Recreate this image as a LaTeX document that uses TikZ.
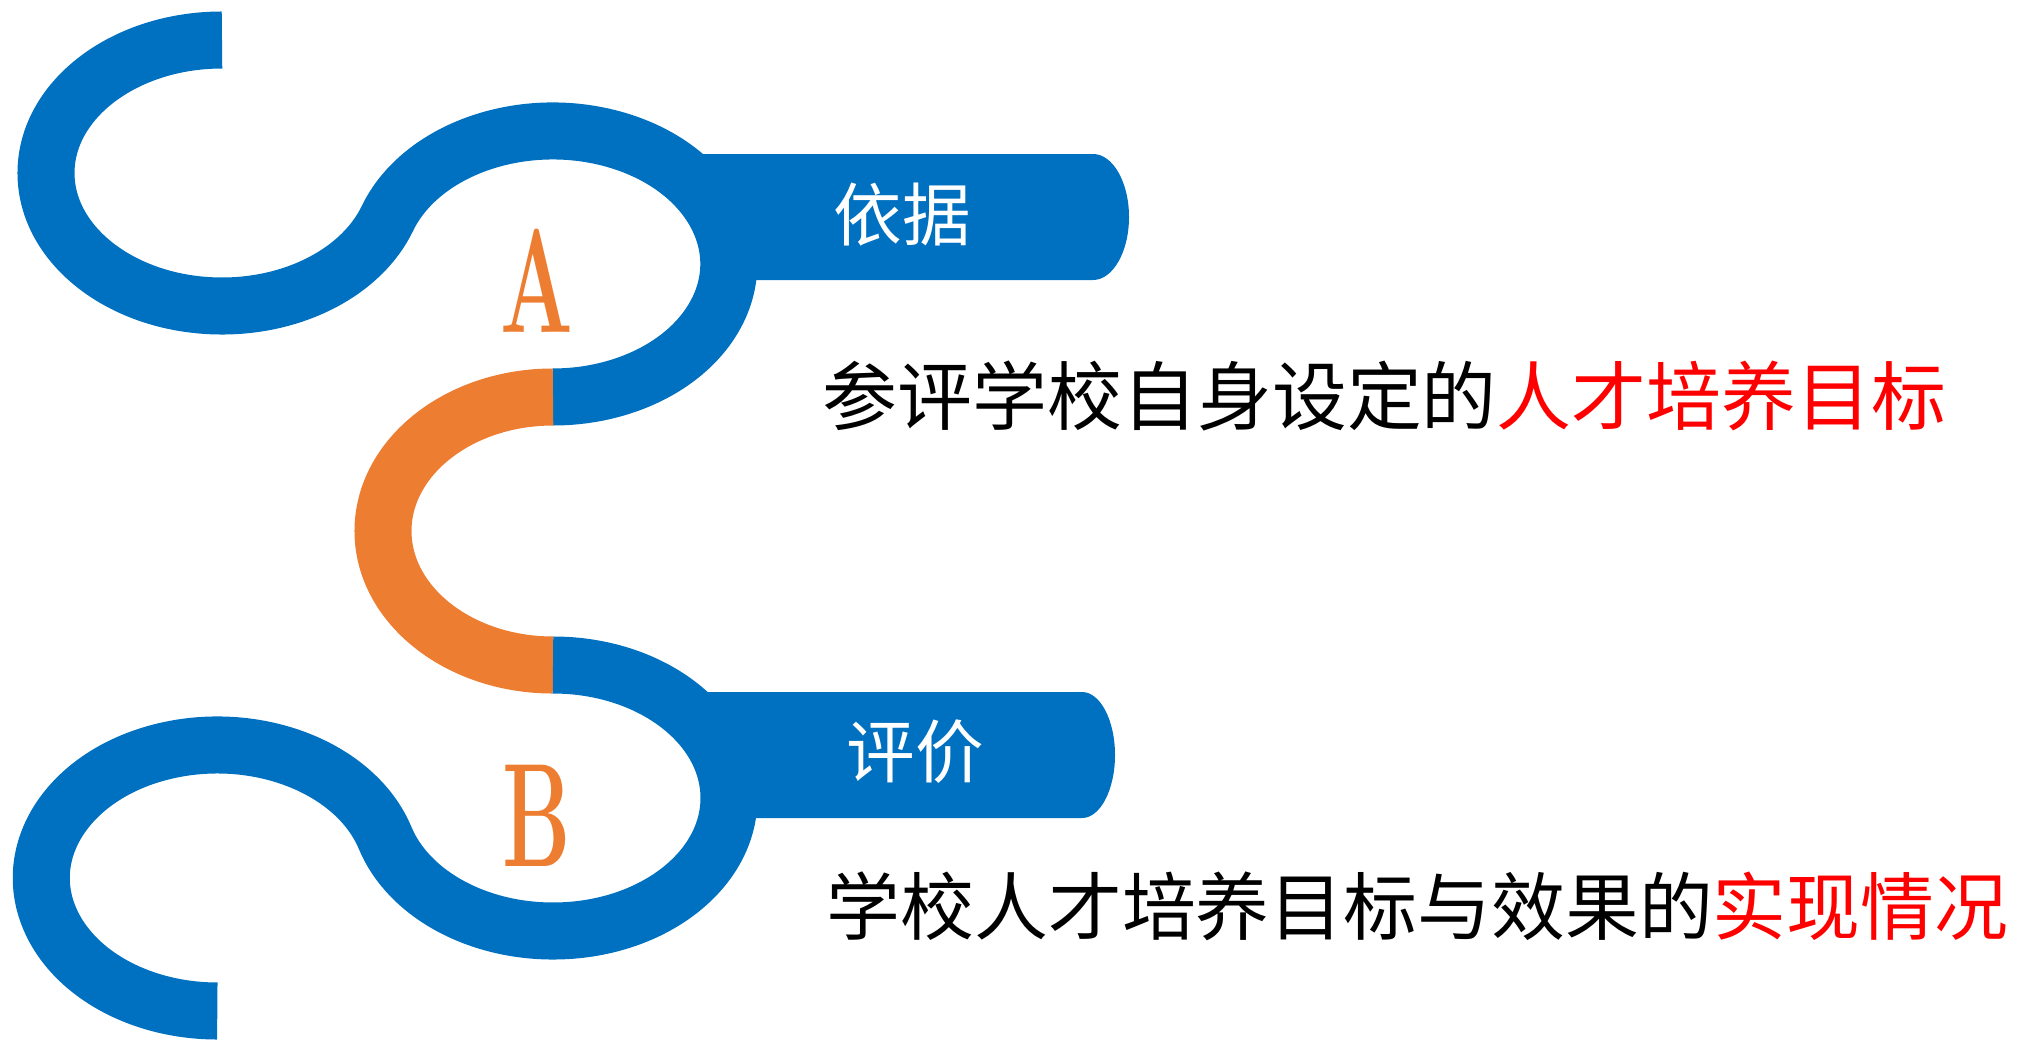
\documentclass[tikz,border=0pt]{standalone}
\usepackage{fontspec}
\newfontfamily\cjk{Noto Sans CJK SC}
\definecolor{ringblue}{HTML}{0070C0}
\definecolor{ringorange}{HTML}{ED7D31}
\tikzset{
  band/.style={draw=ringblue, line width=5.7mm},
  tab/.style={fill=ringblue},
  tabtext/.style={text=white, inner sep=0pt, font=\cjk\fontsize{19.5}{20}\selectfont},
  letter/.style={text=ringorange, inner sep=0pt, font=\fontsize{42}{42}\selectfont\bfseries},
  bodytext/.style={anchor=west, inner sep=0pt, font=\cjk\fontsize{21}{22}\selectfont}
}

\begin{document}
\begin{tikzpicture}[x=0.01cm, y=0.01cm]
\useasboundingbox (0,0) rectangle (2024,1041);

\coordinate (c1) at (222,868);
\coordinate (c3) at (553,510);
\coordinate (c4) at (553,243);

\draw[band] ([shift={(90:176 and 133)}]c1) arc[start angle=90, end angle=340, x radius=176, y radius=133]
  arc[start angle=160, end angle=-90, x radius=176, y radius=133];
\draw[band, draw=ringorange] ([shift={(90:170 and 134)}]c3) arc[start angle=90, end angle=270, x radius=170, y radius=134];
\draw[band] ([shift={(90:176 and 133)}]c4) arc[start angle=90, end angle=-162.5, x radius=176, y radius=133]
  arc[start angle=17.5, end angle=270, x radius=176, y radius=133];

\fill[tab] (703,887) -- (1093,887) arc[start angle=90, end angle=-90, x radius=36, y radius=63] -- (703,761) -- cycle;
\fill[tab] (701,349) -- (1082,349) arc[start angle=90, end angle=-90, x radius=33, y radius=63] -- (701,223) -- cycle;

\node[tabtext] (basis) at (902,826) {依据};
\node[tabtext] (evaluate) at (915,289) {评价};
\node[letter] (a) at (537,760) {\scalebox{0.58}[1]{A}};
\node[letter] (b) at (537,225) {\scalebox{0.58}[1]{B}};
\node[bodytext, font=\cjk\fontsize{21.3}{22}\selectfont] (goal) at (822,645) {参评学校自身设定的\textcolor{red}{人才培养目标}};
\node[bodytext] (result) at (826,135) {学校人才培养目标与效果的\textcolor{red}{实现情况}};

\end{tikzpicture}
\end{document}
